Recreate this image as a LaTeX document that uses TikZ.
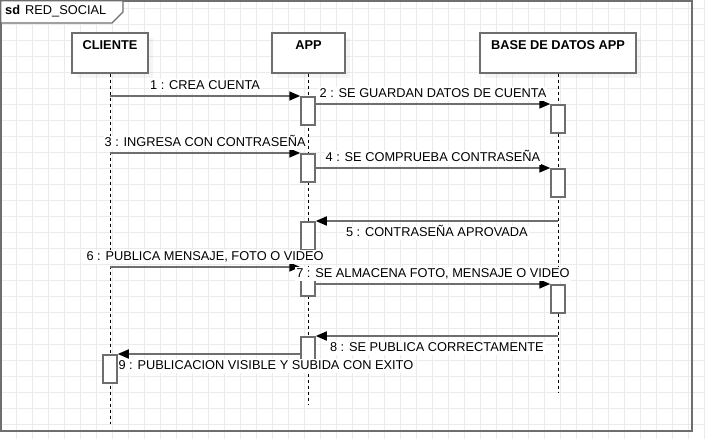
\documentclass[tikz,border=0pt]{standalone}
\usepackage{fontspec}
\setmainfont{Liberation Sans}
\usetikzlibrary{arrows.meta,shadows}
\definecolor{linegray}{HTML}{6E6E6E}
\definecolor{gridgray}{HTML}{EBEBEB}
\begin{document}
\begin{tikzpicture}[
            x=1pt, y=-1pt,
            font=\fontsize{12.8}{15}\selectfont,
            head/.style={draw=linegray,line width=1.5pt,fill=white,minimum height=40pt,anchor=north,
                drop shadow={shadow xshift=5pt,shadow yshift=-5pt,opacity=0.08}},
            headtext/.style={font=\fontsize{12.8}{15}\selectfont\bfseries,below=5pt},
            act/.style={draw=linegray,line width=1.5pt,fill=white,minimum width=14pt,minimum height=28pt,
                anchor=north,inner sep=0pt},
            lifeline/.style={dash pattern=on 3pt off 3pt,line width=0.9pt},
            msg/.style={draw=linegray,line width=1.6pt,-{Triangle[length=11pt,width=9pt,color=black]}},
            lbl/.style={fill=white,inner sep=1pt,text height=9.5pt,text depth=2.5pt}
            ]
            \useasboundingbox (0,0) rectangle (705,439);
            \fill[white] (0,0) rectangle (705,439);
            \foreach \gx in {16,32,...,704} \draw[gridgray,line width=1pt] (\gx,0) -- (\gx,439);
            \foreach \gy in {8,24,...,424} \draw[gridgray,line width=1pt] (0,\gy) -- (705,\gy);
            \draw[linegray,line width=1.5pt] (0.75,0.75) rectangle (692,431);
            \draw[linegray,line width=1.2pt,fill=white] (0.75,0.75) -- (123,0.75) -- (123,12) -- (112,23) -- (0.75,23) -- cycle;
            \node[anchor=base west,inner sep=0pt,font=\fontsize{12.8}{15}\selectfont\bfseries] (sd) at (5,15) {sd};
            \node[anchor=base west,inner sep=0pt] (sdname) at (25,15) {RED\_SOCIAL};

            \node[head,minimum width=76pt] (cliente) at (110,32) {};
            \node[head,minimum width=73pt] (app) at (308.5,32) {};
            \node[head,minimum width=156pt] (bd) at (558,32) {};
            \node[headtext] (tcliente) at (cliente.north) {CLIENTE};
            \node[headtext] (tapp) at (app.north) {APP};
            \node[headtext] (tbd) at (bd.north) {BASE DE DATOS APP};

            \coordinate (cend) at (110,424);
            \coordinate (aend) at (308.5,405);
            \coordinate (bend) at (558,392);
            \draw[lifeline] (cliente) -- (cend);
            \draw[lifeline] (app) -- (aend);
            \draw[lifeline] (bd) -- (bend);

            \node[act] (a1) at (308,96) {};
            \node[act] (b1) at (558,104) {};
            \node[act] (a2) at (308,153) {};
            \node[act] (b2) at (558,168) {};
            \node[act] (a3) at (308,221) {};
            \node[act] (a4) at (308,267) {};
            \node[act] (b3) at (558,284) {};
            \node[act] (a5) at (308,336) {};
            \node[act] (c1) at (110,354) {};

            \draw[msg] (cliente |- a1.north west) -- (a1.north west) node[lbl,midway,above=2pt] {1 : CREA CUENTA};
            \draw[msg] (a1.east |- b1.north) -- (b1.north west) node[lbl,midway,above=2pt] {2 : SE GUARDAN DATOS DE CUENTA};
            \draw[msg] (cliente |- a2.north west) -- (a2.north west) node[lbl,midway,above=2pt] {3 : INGRESA CON CONTRASEÑA};
            \draw[msg] (a2.east |- b2.north) -- (b2.north west) node[lbl,midway,above=2pt] {4 : SE COMPRUEBA CONTRASEÑA};
            \draw[msg] (bd |- a3.north east) -- (a3.north east) node[lbl,midway,below=4pt] {5 : CONTRASEÑA APROVADA};
            \draw[msg] (cliente |- a4.north west) -- (a4.north west) node[lbl,midway,above=2pt] {6 : PUBLICA MENSAJE, FOTO O VIDEO};
            \draw[msg] (a4.east |- b3.north) -- (b3.north west) node[lbl,midway,above=2pt] {7 : SE ALMACENA FOTO, MENSAJE O VIDEO};
            \draw[msg] (bd |- a5.north east) -- (a5.north east) node[lbl,midway,below=4pt] {8 : SE PUBLICA CORRECTAMENTE};
            \draw[msg] (a5.west |- c1.north) -- (c1.north east) node[lbl,pos=1,anchor=north west,xshift=-1pt,yshift=-4pt] {9 : PUBLICACION VISIBLE Y SUBIDA CON EXITO};
        \end{tikzpicture}
\end{document}
